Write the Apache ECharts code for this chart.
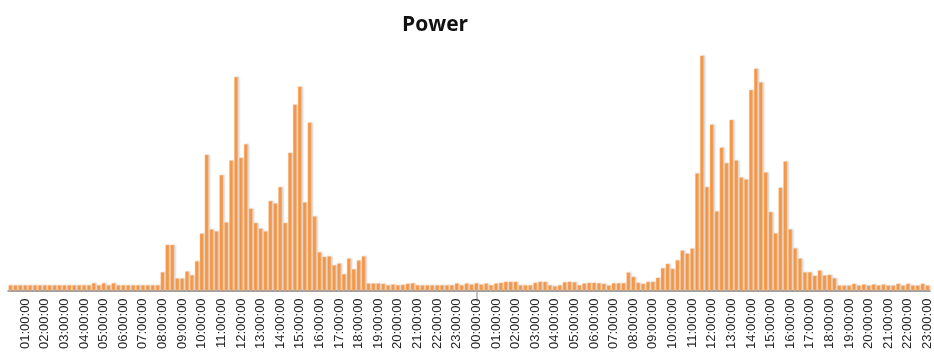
<!DOCTYPE html>
<html>
<head>
<meta charset="utf-8">
<title>Power</title>
<script src="https://cdn.jsdelivr.net/npm/echarts@6/dist/echarts.min.js"></script>
<style>
  html, body { margin: 0; padding: 0; background: #ffffff; }
  #chart { width: 934px; height: 352px; }
</style>
</head>
<body>
<div id="chart"></div>
<script>
// Quarter-hour power readings over two days (first reading 00:15 on day one).
var powerDay1 = [
  5.3, 5.3, 5.3, 5.3, 5.3, 5.3, 5.3, 5.3, 5.3, 5.3, 5.3, 5.3, 5.3, 5.3, 5.3, 5.3, 5.3,
  7.3, 5.3, 7.3, 5.3, 7.3,
  5.3, 5.3, 5.3, 5.3, 5.3, 5.3, 5.3, 5.3, 5.3,
  18.3, 45.7, 45.7, 12, 12, 19, 15.3, 29.3, 57, 136, 61.3, 59.3, 115.7, 68.3, 130.3, 214,
  133, 146.7, 82, 67.7, 62, 59.3, 89.7, 87.3, 103.7, 67.7, 138, 186.3, 204.3, 88.3, 168.3,
  74.3, 38.3, 33.7, 34.3, 25.3, 27, 16.3, 32, 21.3, 30, 34.3, 7, 7, 7, 6.7,
  5.3, 6, 5.3, 5.7, 6.7, 7.3, 5.3, 5.3, 5.3, 5.3, 5.3, 5.3, 5.3, 5.3, 7, 5.3, 7, 6
];
// Day two, from 00:00 to 23:00.
var powerDay2 = [
  7.3, 6, 7, 5.3, 7, 7.7, 8.7, 8.7, 8.7, 5.3, 5.3, 5.3, 7.7, 8.7, 8.7, 5.3, 4.3, 5.3,
  8.3, 8.7, 8.3, 5.3, 7, 7.7, 7.7,
  7.3, 6.7, 5, 7.3, 7.3, 7.3, 18, 13.7, 7.7, 6.7, 8.7, 8.7, 12.7, 22.3, 26.7, 21.7, 30.3,
  40, 37, 42, 117.3, 235.3, 103.7, 166.3, 79.3, 143.3, 127.7, 171, 130.3, 113.3, 111.3,
  201, 222.3, 208.7, 118.3, 78.7, 57.3, 103, 129.3, 61.3, 42.3, 32, 18.3, 18.3, 14.7, 20,
  15, 15.7, 12.3,
  5, 5, 5, 6.7, 5, 6, 5, 6, 5, 6, 5, 5, 6.7, 5, 6.7, 5, 5, 6.7, 5
];

var powerValues = powerDay1.concat(powerDay2);

// Category labels: hh:mm:ss every 15 minutes, starting at 00:15.
function pad(n) { return (n < 10 ? '0' : '') + n; }
var timeLabels = [];
for (var i = 0; i < powerValues.length; i++) {
  var minutes = ((i + 1) * 15) % (24 * 60);
  timeLabels.push(pad(Math.floor(minutes / 60)) + ':' + pad(minutes % 60) + ':00');
}

// Only the full hours carry a label; a single tick marks midnight between the days.
function isFullHour(index) { return index % 4 === 3; }
var midnightIndex = powerDay1.length;

var chart = echarts.init(document.getElementById('chart'), null, { renderer: 'canvas' });
chart.setOption({
  animation: false,
  backgroundColor: '#ffffff',
  title: {
    text: 'Power',
    left: 397,
    top: 10,
    textStyle: {
      fontFamily: 'Open Sans',
      fontWeight: 'bold',
      fontSize: 21,
      color: '#111111'
    }
  },
  grid: {
    left: 8,
    top: 41,
    width: 926,
    bottom: 61,
    containLabel: false
  },
  xAxis: {
    type: 'category',
    data: timeLabels,
    boundaryGap: true,
    axisLine: { show: true, lineStyle: { color: '#868686', width: 1.5 } },
    axisTick: {
      show: true,
      alignWithLabel: true,
      length: 11,
      interval: function (index) { return index === midnightIndex; },
      lineStyle: { color: '#b0b0b0', width: 1.5 }
    },
    axisLabel: {
      interval: function (index) { return isFullHour(index); },
      rotate: 90,
      margin: 8,
      fontFamily: 'Liberation Sans',
      fontSize: 13,
      color: '#262626'
    },
    splitLine: { show: false }
  },
  yAxis: {
    type: 'value',
    min: 0,
    max: 250,
    show: false,
    splitLine: { show: false }
  },
  series: [{
    name: 'Power',
    type: 'bar',
    data: powerValues,
    barCategoryGap: '22%',
    itemStyle: {
      color: '#F89B4B',
      borderColor: '#FCC79A',
      borderWidth: 0.4,
      shadowColor: 'rgba(0, 0, 0, 0.16)',
      shadowBlur: 2,
      shadowOffsetX: 1.5,
      shadowOffsetY: 0
    }
  }]
});
</script>
</body>
</html>
